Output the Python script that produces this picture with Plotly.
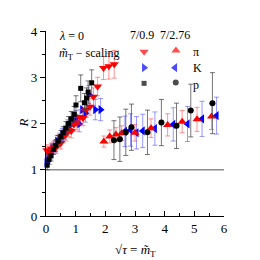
import plotly.graph_objects as go

# 7/0.9 series
pi_a_x = [0.03,0.1,0.18,0.26,0.34,0.42,0.5,0.58,0.67,0.76,0.85,0.94,1.04,1.14,1.25,1.36,1.48,1.6,1.74,1.94,2.12,2.3]
pi_a_y = [1.42,1.36,1.46,1.5,1.48,1.62,1.58,1.72,1.76,1.86,1.84,1.98,2.02,2.14,2.12,2.3,2.36,2.58,2.8,3.2,3.24,3.28]
pi_a_e = [0.12,0.12,0.12,0.12,0.13,0.13,0.13,0.14,0.14,0.15,0.15,0.15,0.16,0.16,0.17,0.17,0.18,0.19,0.2,0.25,0.28,0.3]

k_a_x = [0.02,0.08,0.15,0.22,0.3,0.38,0.46,0.55,0.64,0.73,0.82,0.92,1.02,1.12,1.22,1.33,1.45,1.66,1.84]
k_a_y = [1.15,1.28,1.34,1.46,1.5,1.62,1.66,1.76,1.8,1.94,1.96,2.08,2.12,1.99,2.3,2.22,2.62,2.3,2.3]
k_a_e = [0.1,0.1,0.11,0.11,0.12,0.12,0.13,0.13,0.14,0.14,0.15,0.15,0.16,0.17,0.18,0.19,0.2,0.22,0.24]

p_a_x = [0.04,0.1,0.17,0.25,0.33,0.41,0.5,0.58,0.67,0.76,0.85,0.95,1.01,1.17,1.3,1.37,1.42,1.54]
p_a_y = [1.1,1.22,1.3,1.44,1.52,1.62,1.72,1.8,1.9,2.0,2.1,2.2,2.4,2.76,2.45,2.55,2.68,2.88]
p_a_e = [0.1,0.1,0.11,0.11,0.12,0.12,0.13,0.13,0.14,0.15,0.16,0.17,0.2,0.29,0.2,0.22,0.24,0.28]

# 7/2.76 series
pi_b_x = [1.95,2.15,2.36,2.55,3.0,3.54,4.1,4.59,5.09,5.58]
pi_b_y = [1.61,1.72,1.76,1.79,1.8,1.9,1.97,2.04,2.09,2.15]
pi_b_e = [0.12,0.14,0.15,0.16,0.18,0.2,0.24,0.24,0.26,0.28]

k_b_x = [2.66,2.85,3.05,3.26,3.67,4.29,4.77,5.26,5.75]
k_b_y = [1.83,1.86,1.8,1.84,1.89,1.98,1.99,2.1,2.17]
k_b_e = [0.33,0.35,0.35,0.36,0.36,0.36,0.38,0.38,0.4]

p_b_x = [2.29,2.49,2.69,2.88,3.42,3.89,4.4,4.88,5.61]
p_b_y = [1.64,1.66,1.81,1.92,1.81,2.02,1.95,2.28,2.44]
p_b_e = [0.42,0.48,0.5,0.5,0.48,0.5,0.49,0.57,0.66]

ref_level = 1.0

SERIF = "Liberation Serif, Times New Roman, Times, serif"

fig = go.Figure()

def add(x, y, e, sym, col, ecol, size):
    fig.add_trace(go.Scatter(
        x=x, y=y, mode="markers", cliponaxis=False,
        marker=dict(symbol=sym, color=col, size=size, line=dict(width=0)),
        error_y=dict(type="data", array=e, color=ecol, thickness=1, width=2.5),
        showlegend=False))

fig.add_trace(go.Scatter(x=[0, 6], y=[ref_level, ref_level], mode="lines",
                         line=dict(color="#8c8c8c", width=1.5), showlegend=False))

add(k_b_x, k_b_y, k_b_e, "triangle-left", "#0000ff", "rgba(70,70,255,0.55)", 8)
add(pi_b_x, pi_b_y, pi_b_e, "triangle-up", "#ff0000", "rgba(255,60,60,0.55)", 8)
add(p_b_x, p_b_y, p_b_e, "circle", "#000000", "rgba(60,60,60,0.7)", 6)
add(k_a_x, k_a_y, k_a_e, "triangle-right", "#0000ff", "rgba(70,70,255,0.55)", 8)
add(pi_a_x, pi_a_y, pi_a_e, "triangle-down", "#ff0000", "rgba(255,60,60,0.55)", 8)
add(p_a_x, p_a_y, p_a_e, "square", "#000000", "rgba(60,60,60,0.7)", 5)

# legend symbols on an overlay axis (paper-like)
leg_x = [0.551, 0.730, 0.551, 0.725, 0.551, 0.729]
leg_y = [0.888, 0.894, 0.802, 0.802, 0.717, 0.721]
leg_sym = ["triangle-down", "triangle-up", "triangle-right", "triangle-left", "square", "circle"]
leg_col = ["#ff0000", "#ff0000", "#0000ff", "#0000ff", "#000000", "#000000"]
leg_size = [8, 8, 8, 8, 5, 6]
fig.add_trace(go.Scatter(x=leg_x, y=leg_y, mode="markers", xaxis="x2", yaxis="y2",
                         marker=dict(symbol=leg_sym, color=leg_col, size=leg_size, line=dict(width=0)),
                         showlegend=False, cliponaxis=False))

font = dict(family=SERIF, size=12, color="black")
tfont = dict(family=SERIF, size=13, color="black")

ann = [
    dict(x=0.538, y=0.978, text="7/0.9"),
    dict(x=0.725, y=0.978, text="7/2.76"),
    dict(x=0.843, y=0.888, text="π"),
    dict(x=0.852, y=0.798, text="K"),
    dict(x=0.843, y=0.708, text="p"),
]
annotations = [dict(xref="paper", yref="paper", showarrow=False, font=font,
                    xanchor="center", yanchor="middle", **a) for a in ann]
annotations.append(dict(xref="paper", yref="paper", x=0.06, y=0.973, xanchor="left",
                        yanchor="middle", showarrow=False, font=font,
                        text="<i>λ</i> = 0"))
annotations.append(dict(xref="paper", yref="paper", x=0.06, y=0.876, xanchor="left",
                        yanchor="middle", showarrow=False, font=font,
                        text="<i>m̃</i><sub>T</sub> − scaling"))
# axis titles
annotations.append(dict(xref="paper", yref="paper", x=0.5, y=0, yshift=-34,
                        xanchor="center", yanchor="middle", showarrow=False, font=tfont,
                        text="√<i>τ</i> = <i>m̃</i><sub>T</sub>"))
annotations.append(dict(xref="paper", yref="paper", x=0, y=0.5, xshift=-23,
                        xanchor="center", yanchor="middle", showarrow=False, font=tfont,
                        textangle=-90, text="<i>R</i>"))

fig.update_layout(
    width=252, height=252,
    margin=dict(l=38, r=36, t=23, b=44, autoexpand=False),
    paper_bgcolor="white", plot_bgcolor="white",
    font=font,
    annotations=annotations,
    xaxis=dict(range=[0, 6], dtick=1, showgrid=False, zeroline=False,
               showline=True, linecolor="black", linewidth=1.2, automargin=False,
               ticks="inside", ticklen=5, tickcolor="black", tickwidth=1,
               minor=dict(dtick=0.5, ticks="inside", ticklen=3, tickcolor="black"),
               tickfont=dict(family=SERIF, size=13)),
    yaxis=dict(range=[0, 4], dtick=1, showgrid=False, zeroline=False,
               showline=True, linecolor="black", linewidth=1.2, automargin=False,
               ticks="outside", ticklen=5, tickcolor="black", tickwidth=1,
               minor=dict(dtick=0.5, ticks="outside", ticklen=3, tickcolor="black"),
               tickfont=dict(family=SERIF, size=13)),
    xaxis2=dict(overlaying="x", range=[0, 1], visible=False),
    yaxis2=dict(overlaying="y", range=[0, 1], visible=False),
)

fig.write_html("out.html")
